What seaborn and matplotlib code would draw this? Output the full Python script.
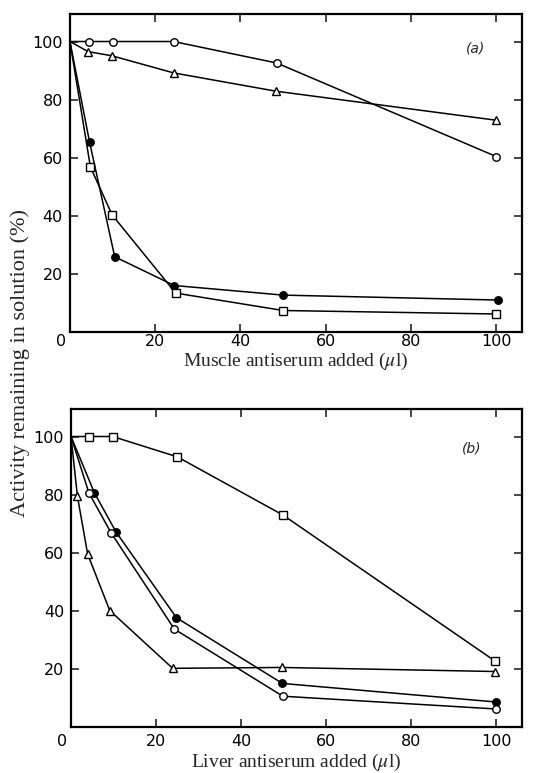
import matplotlib
matplotlib.use("Agg")
import matplotlib.pyplot as plt
import matplotlib.transforms as mtrans
import seaborn as sns
import pandas as pd

# Panel (a): muscle antiserum
a_open_circle_x = [0, 4.5, 10, 24.3, 48.5, 100]
a_open_circle_y = [100, 100, 100, 100, 92.6, 60.4]
a_triangle_x = [0, 4.3, 9.8, 24.3, 48.3, 100]
a_triangle_y = [100, 96.5, 95.1, 89.2, 82.9, 72.9]
a_filled_circle_x = [0, 4.6, 10.5, 24.5, 50, 100.4]
a_filled_circle_y = [100, 65.4, 25.9, 16.0, 12.7, 11.0]
a_square_x = [0, 4.8, 9.9, 24.8, 50, 100]
a_square_y = [100, 56.8, 40.3, 13.4, 7.4, 6.2]

# Panel (b): liver antiserum
b_square_x = [0, 4.3, 9.8, 25, 49.8, 99.7]
b_square_y = [100, 100, 100, 93, 73, 22.7]
b_filled_circle_x = [0, 5.5, 10.6, 24.8, 49.7, 100]
b_filled_circle_y = [100, 80.6, 67.1, 37.6, 15.0, 8.6]
b_open_circle_x = [0, 4.2, 9.4, 24.3, 49.8, 100]
b_open_circle_y = [100, 80.6, 66.9, 33.7, 10.6, 6.2]
b_triangle_x = [0, 1.5, 3.9, 9.1, 23.9, 49.6, 99.8]
b_triangle_y = [100, 79.5, 59.6, 40.1, 20.2, 20.5, 19.1]

x_ticks = [0, 20, 40, 60, 80, 100]
y_ticks = [20, 40, 60, 80, 100]
xlabel_a = "Muscle antiserum added ($\\mu$l)"
xlabel_b = "Liver antiserum added ($\\mu$l)"
ylabel = "Activity remaining in solution (%)"

sns.set_theme(style="white")
plt.rcParams["font.family"] = ["DejaVu Sans"]
plt.rcParams["mathtext.fontset"] = "stix"

fig = plt.figure(figsize=(5.38, 7.73), dpi=100)
ax_a = fig.add_axes([0.130, 0.5705, 0.840, 0.4115])
ax_b = fig.add_axes([0.132, 0.0595, 0.838, 0.4115])

style = {
    "circle_open": dict(marker="o", markerfacecolor="white", markersize=5.4),
    "circle_filled": dict(marker="o", markerfacecolor="black", markersize=5.4),
    "square": dict(marker="s", markerfacecolor="white", markersize=5.4),
    "triangle": dict(marker="^", markerfacecolor="white", markersize=6.0),
}

def draw(ax, x, y, kind):
    df = pd.DataFrame({"x": x, "y": y})
    sns.lineplot(data=df, x="x", y="y", ax=ax, color="black", linewidth=1.1,
                 markeredgecolor="black", markeredgewidth=1.0, sort=False,
                 markevery=slice(1, None), **style[kind])

draw(ax_a, a_open_circle_x, a_open_circle_y, "circle_open")
draw(ax_a, a_triangle_x, a_triangle_y, "triangle")
draw(ax_a, a_filled_circle_x, a_filled_circle_y, "circle_filled")
draw(ax_a, a_square_x, a_square_y, "square")

draw(ax_b, b_square_x, b_square_y, "square")
draw(ax_b, b_filled_circle_x, b_filled_circle_y, "circle_filled")
draw(ax_b, b_open_circle_x, b_open_circle_y, "circle_open")
draw(ax_b, b_triangle_x, b_triangle_y, "triangle")

serif = ["Liberation Serif", "DejaVu Serif"]
for ax, xl, tag, lab_y, tick_pad, tag_xy in [
        (ax_a, xlabel_a, "(a)", -0.094, 1.5, (0.898, 0.89)),
        (ax_b, xlabel_b, "(b)", -0.112, 5, (0.889, 0.877))]:
    ax.set_xlim(0, 106)
    ax.set_ylim(0, 109.5)
    ax.set_xticks(x_ticks)
    ax.set_yticks(y_ticks)
    ax.set_xticklabels([str(t) for t in x_ticks], fontsize=11.5)
    ax.set_yticklabels([str(t) for t in y_ticks], fontsize=11.5)
    ax.tick_params(axis="x", direction="in", length=6, width=1.2,
                   top=True, bottom=True, pad=tick_pad)
    ax.tick_params(axis="y", direction="in", length=6, width=1.2,
                   left=True, right=True, pad=5)
    for sp in ax.spines.values():
        sp.set_linewidth(1.6)
        sp.set_color("black")
    ax.set_xlabel(xl, fontsize=14, family=serif, va="center")
    ax.xaxis.set_label_coords(0.5, lab_y)
    ax.set_ylabel("")
    ax.text(tag_xy[0], tag_xy[1], tag, transform=ax.transAxes,
            fontsize=10, style="italic", ha="center", va="center")
    # shift the "0" x tick label to the left of the origin, as in the original
    lab0 = ax.get_xticklabels()[0]
    lab0.set_transform(lab0.get_transform() +
                       mtrans.ScaledTranslation(-9 / 100, 0, fig.dpi_scale_trans))
    for lbl in ax.get_xticklabels() + ax.get_yticklabels():
        lbl.set_color("black")

fig.text(0.037, 0.530, ylabel, rotation=90, fontsize=16, family=serif,
         ha="center", va="center")

fig.savefig("out.png", dpi=100)
